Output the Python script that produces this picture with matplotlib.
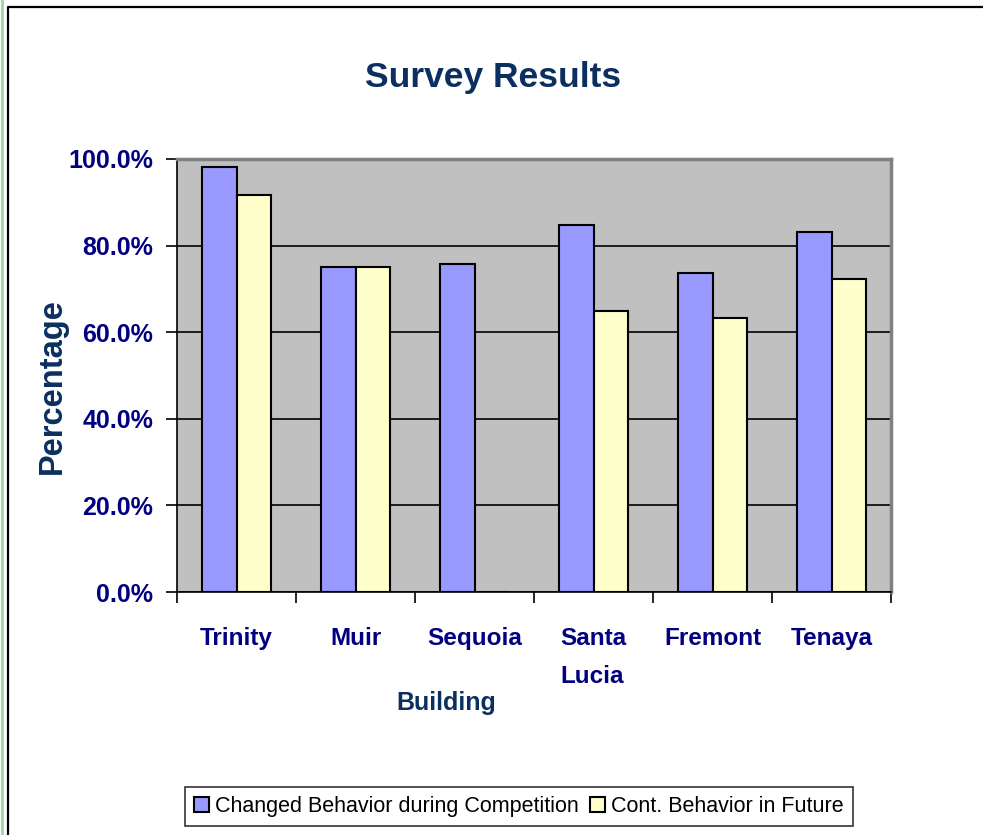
import matplotlib
matplotlib.use("Agg")
import matplotlib.pyplot as plt
import numpy as np
from matplotlib.lines import Line2D
from matplotlib.patches import Patch
from matplotlib.ticker import FuncFormatter

categories = ["Trinity", "Muir", "Sequoia", "Santa\nLucia", "Fremont", "Tenaya"]
changed = [98.2, 75.0, 75.7, 84.8, 73.6, 83.1]
continued = [91.7, 75.0, 0.0, 65.0, 63.2, 72.2]
series_names = ["Changed Behavior during Competition", "Cont. Behavior in Future"]
y_ticks = [0, 20, 40, 60, 80, 100]

FONT = ["Liberation Sans", "DejaVu Sans"]

fig = plt.figure(figsize=(9.83, 8.35), dpi=100)
W, H = 983, 835
ax = fig.add_axes([177 / W, 1 - 592 / H, 714 / W, 433 / H])
ax.set_facecolor("#C0C0C0")

x = np.arange(len(categories))
bw = 0.286
ax.bar(x - bw / 2, changed, bw, color="#9999FF", edgecolor="black", linewidth=1.5, zorder=3)
ax.bar(x + bw / 2, continued, bw, color="#FFFFCC", edgecolor="black", linewidth=1.5, zorder=3)

ax.set_xlim(-0.5, len(categories) - 0.5)
ax.set_ylim(0, 100)
ax.set_yticks(y_ticks)
ax.yaxis.set_major_formatter(FuncFormatter(lambda v, p: f"{v:.1f}%"))
ax.grid(axis="y", color="black", linewidth=1.2, zorder=1)
ax.set_axisbelow(True)

ax.set_xticks(np.arange(-0.5, len(categories), 1.0))
ax.set_xticklabels([])
ax.set_xticks(x, minor=True)
ax.set_xticklabels(categories, minor=True)
ax.tick_params(axis="x", which="major", length=8, width=1.2, direction="out", color="black")
ax.tick_params(axis="x", which="minor", length=0, pad=25)
ax.tick_params(axis="y", length=8, width=1.2, direction="out", pad=9)

for lab in ax.get_xticklabels(minor=True):
    lab.set_fontfamily(FONT)
    lab.set_fontweight("bold")
    lab.set_fontsize(17.5)
    lab.set_color("#000080")
    lab.set_verticalalignment("top")
    lab.set_multialignment("left")
    lab.set_linespacing(1.85)
for lab in ax.get_yticklabels():
    lab.set_fontfamily(FONT)
    lab.set_fontweight("bold")
    lab.set_fontsize(18)
    lab.set_color("#000080")

for s in ["left", "bottom"]:
    ax.spines[s].set_color("black")
    ax.spines[s].set_linewidth(1.2)
for s in ["top", "right"]:
    ax.spines[s].set_color("#808080")
    ax.spines[s].set_linewidth(2.5)

fig.text(493 / W, 1 - 77 / H, "Survey Results", ha="center", va="center",
         fontfamily=FONT, fontweight="bold", fontsize=25.5, color="#0B3060")
fig.text(52 / W, 1 - 386 / H, "Percentage", ha="center", va="center", rotation=90,
         fontfamily=FONT, fontweight="bold", fontsize=23.5, color="#0B3060")
fig.text(446 / W, 1 - 703 / H, "Building", ha="center", va="center",
         fontfamily=FONT, fontweight="bold", fontsize=18, color="#0B3060")

handles = [Patch(facecolor="#9999FF", edgecolor="black", linewidth=1.5),
           Patch(facecolor="#FFFFCC", edgecolor="black", linewidth=1.5)]
leg = fig.legend(handles, series_names, loc="center", bbox_to_anchor=(519 / W, 1 - 806.5 / H),
                 ncol=2, frameon=True, fancybox=False, edgecolor="black",
                 handlelength=0.7, handleheight=0.7, handletextpad=0.3, columnspacing=0.5,
                 borderpad=0.4, prop={"family": FONT, "size": 15.5})
leg.get_frame().set_linewidth(1.2)

# outer chart frame
fig.add_artist(Line2D([8 / W, 8 / W, 1.0], [0, 1 - 7 / H, 1 - 7 / H], color="black",
                      linewidth=1.6, transform=fig.transFigure))
fig.add_artist(Line2D([1.5 / W, 1.5 / W], [0, 1], color="#9ED89E", linewidth=2,
                      transform=fig.transFigure))

fig.savefig("out.png", dpi=100)
